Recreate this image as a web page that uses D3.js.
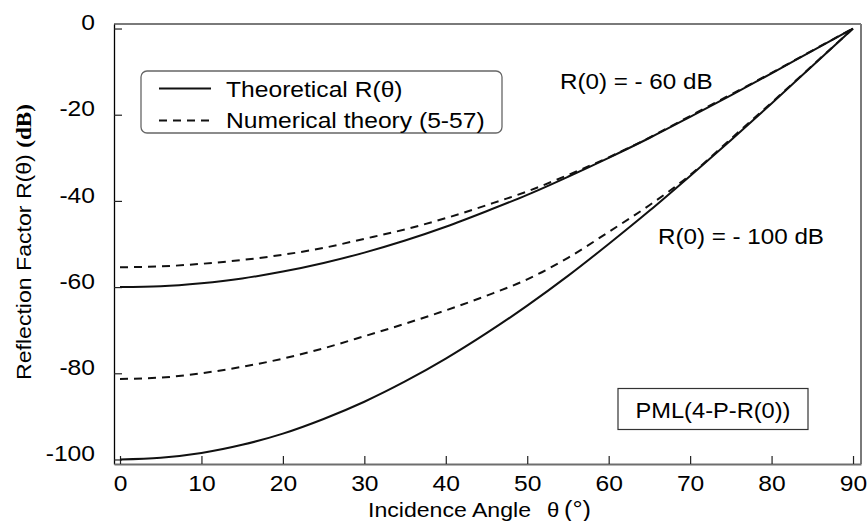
<!DOCTYPE html>
<html>
<head>
<meta charset="utf-8">
<script src="https://cdn.jsdelivr.net/npm/d3@7"></script>
<style>
  html, body { margin: 0; padding: 0; background: #fff; }
  svg { display: block; }
  text { font-family: "Liberation Sans", Arial, Helvetica, sans-serif; fill: #000; }
</style>
</head>
<body>
<svg id="chart" width="868" height="521"></svg>
<script>
// Incidence angles (degrees)
const angles = [0, 5, 10, 15, 20, 25, 30, 35, 40, 45, 50, 55, 60, 65, 70, 75, 80, 85, 90];

// Theoretical reflection factor, R(0) = -60 dB
const theory60 = [-60, -59.8, -59.1, -58.0, -56.4, -54.4, -52.0, -49.2, -46.0, -42.4, -38.6, -34.4, -30.0, -25.4, -20.5, -15.5, -10.4, -5.2, 0];
// Numerical theory (5-57), R(0) = -60 dB
const numeric60 = [-55.4, -55.2, -54.6, -53.7, -52.5, -50.9, -48.8, -46.6, -44.0, -41.0, -37.8, -34.0, -29.9, -25.3, -20.3, -15.3, -10.3, -5.1, 0];
// Theoretical reflection factor, R(0) = -100 dB
const theory100 = [-100, -99.6, -98.5, -96.6, -94.0, -90.6, -86.6, -81.9, -76.6, -70.7, -64.3, -57.4, -50.0, -42.3, -34.2, -25.9, -17.4, -8.7, 0];
// Numerical theory (5-57), R(0) = -100 dB
const numeric100 = [-81.3, -81.0, -80.0, -78.5, -76.6, -74.2, -71.4, -68.5, -65.4, -62.0, -58.2, -53.2, -47.2, -41.0, -34.0, -25.6, -17.2, -8.6, 0];

const xTicks = [0, 10, 20, 30, 40, 50, 60, 70, 80, 90];
const yTicks = [0, -20, -40, -60, -80, -100];

const legendLabels = ["Theoretical R(\u03b8)", "Numerical theory (5-57)"];
const curveLabels = ["R(0) = - 60 dB", "R(0) = - 100 dB"];
const boxLabel = "PML(4-P-R(0))";

// Glyphs in this figure are set wide; stretch text along its baseline.
const SX = 1.12;
const FS = 22;

const svg = d3.select("#chart");
const plotL = 114, plotR = 861, plotT = 24, plotB = 464;

const x = d3.scaleLinear().domain([-0.737, 90.98]).range([plotL, plotR]);
const y = d3.scaleLinear().domain([1.05, -101.05]).range([plotT, plotB]);

// Frame: top and right edges
svg.append("line").attr("x1", plotL).attr("x2", plotR).attr("y1", plotT).attr("y2", plotT)
  .attr("stroke", "#7a7a7a").attr("stroke-width", 2);
svg.append("line").attr("x1", plotR).attr("x2", plotR).attr("y1", plotT).attr("y2", plotB)
  .attr("stroke", "#7a7a7a").attr("stroke-width", 2);

// Y axis (ticks point inward)
const gy = svg.append("g").attr("transform", `translate(${plotL},0)`)
  .call(d3.axisLeft(y).tickValues(yTicks).tickSizeInner(-8).tickSizeOuter(0).tickPadding(19)
    .tickFormat(d => String(d)));
gy.select(".domain").attr("stroke", "#000").attr("stroke-width", 1.3);
gy.selectAll(".tick line").attr("stroke", "#222").attr("stroke-width", 1.2);
gy.selectAll(".tick text")
  .attr("font-size", FS).attr("font-family", "Liberation Sans, Arial, sans-serif")
  .attr("x", -19 / SX).attr("dy", "0.05em")
  .attr("transform", `scale(${SX},1)`);

// X axis (ticks point inward)
const gx = svg.append("g").attr("transform", `translate(0,${plotB})`)
  .call(d3.axisBottom(x).tickValues(xTicks).tickSizeInner(-8).tickSizeOuter(0).tickPadding(11));
gx.select(".domain").attr("stroke", "#6e6e6e").attr("stroke-width", 2);
gx.selectAll(".tick line").attr("stroke", "#222").attr("stroke-width", 1.2);
gx.selectAll(".tick text")
  .attr("font-size", FS).attr("font-family", "Liberation Sans, Arial, sans-serif")
  .attr("transform", `scale(${SX},1)`);

// Curves
const line = d3.line()
  .x((d, i) => x(angles[i]))
  .y(d => y(d))
  .curve(d3.curveMonotoneX);

const series = [
  { values: theory60, dash: null },
  { values: theory100, dash: null },
  { values: numeric60, dash: "8,6" },
  { values: numeric100, dash: "8,6" }
];
svg.append("g").selectAll("path").data(series).join("path")
  .attr("d", d => line(d.values))
  .attr("fill", "none")
  .attr("stroke", "#111")
  .attr("stroke-width", 2)
  .attr("stroke-dasharray", d => d.dash);

// Helper for wide-set text
function wideText(parent, tx, ty, str, size, anchor, sx) {
  return parent.append("text")
    .attr("transform", `translate(${tx},${ty}) scale(${sx || SX},1)`)
    .attr("text-anchor", anchor || "start")
    .attr("font-size", size)
    .text(str);
}

// Legend
const lg = svg.append("g");
lg.append("rect").attr("x", 141).attr("y", 71).attr("width", 361).attr("height", 62)
  .attr("rx", 6).attr("ry", 6)
  .attr("fill", "#fff").attr("stroke", "#666").attr("stroke-width", 1.3);
lg.append("line").attr("x1", 159).attr("x2", 211).attr("y1", 88.5).attr("y2", 88.5)
  .attr("stroke", "#111").attr("stroke-width", 2);
lg.append("line").attr("x1", 159).attr("x2", 211).attr("y1", 120.5).attr("y2", 120.5)
  .attr("stroke", "#111").attr("stroke-width", 2).attr("stroke-dasharray", "8,6");
wideText(lg, 226, 96.5, legendLabels[0], FS);
wideText(lg, 226, 128, legendLabels[1], FS);

// Curve annotations
wideText(svg, 560, 88.5, curveLabels[0], FS, "start", 1.1);
wideText(svg, 658, 244, curveLabels[1], FS, "start", 1.1);

// Boxed configuration label
svg.append("rect").attr("x", 618).attr("y", 388.5).attr("width", 190).attr("height", 41)
  .attr("fill", "#fff").attr("stroke", "#333").attr("stroke-width", 1.2);
wideText(svg, 713, 417.5, boxLabel, 21.5, "middle", 1.1);

// X axis title
wideText(svg, 368, 516.5, "Incidence Angle", 21, "start", 1.1);
svg.append("text")
  .attr("transform", "translate(547,516.5) scale(1.05,1)")
  .attr("font-family", "Liberation Serif, Times New Roman, serif")
  .attr("font-size", 21).text("\u03b8");
svg.append("text")
  .attr("transform", "translate(564,516.5) scale(1.1,1)")
  .attr("font-family", "Liberation Serif, Times New Roman, serif")
  .attr("font-size", 23).text("(\u00b0)");

// Y axis title
const yt = svg.append("text")
  .attr("transform", `translate(31,380) rotate(-90) scale(1.1,1)`)
  .attr("font-size", 21);
yt.append("tspan").text("Reflection Factor R(\u03b8) ");
yt.append("tspan").attr("font-family", "Liberation Serif, Times New Roman, serif")
  .attr("font-weight", "bold").attr("font-size", 21).text("(dB)");
</script>
</body>
</html>
